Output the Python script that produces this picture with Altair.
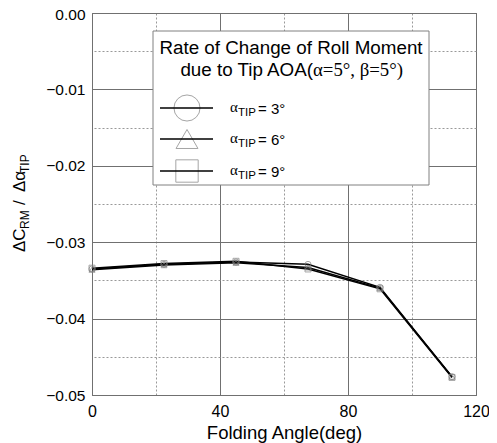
import altair as alt
import pandas as pd

# ---- data ----
FOLD = [0, 22.5, 45, 67.5, 90, 112.5]
TIP3 = [-0.0335, -0.0329, -0.0326, -0.0329, -0.0359, -0.0476]
TIP6 = [-0.0336, -0.0330, -0.0327, -0.0333, -0.0360, -0.0476]
TIP9 = [-0.0334, -0.0328, -0.0325, -0.0335, -0.0361, -0.0477]
SERIES = ["3", "6", "9"]
SHAPES = ["circle", "triangle-up", "square"]
X_MAJOR = [0, 40, 80, 120]
X_MINOR = [20, 60, 100]
Y_MAJOR = [0, -0.01, -0.02, -0.03, -0.04, -0.05]
Y_MINOR = [-0.005, -0.015, -0.025, -0.035, -0.045]

rows = []
for s, vals in zip(SERIES, [TIP3, TIP6, TIP9]):
    for f, v in zip(FOLD, vals):
        rows.append({"fold": f, "val": v, "series": s})
df = pd.DataFrame(rows)
dummy = pd.DataFrame({"a": [0]})

W, H = 384, 382
SANS = "Liberation Sans"
SERIF = "Liberation Serif"
xs = alt.Scale(domain=[0, 120], nice=False, zero=False)
ys = alt.Scale(domain=[-0.05, 0], nice=False, zero=False)

base = alt.Chart(df)

lines = base.mark_line(color="black", strokeWidth=1.5).encode(
    x=alt.X("fold:Q", scale=xs, axis=alt.Axis(orient="bottom", values=X_MAJOR, title="Folding Angle(deg)",
                                              grid=True, gridColor="#707070", gridWidth=1, ticks=False,
                                              domain=False, labelPadding=8, titlePadding=4, labelFlush=False)),
    y=alt.Y("val:Q", scale=ys, axis=alt.Axis(orient="left", values=Y_MAJOR, title=None, grid=True,
                                             gridColor="#707070", gridWidth=1, ticks=False, domain=False,
                                             labelPadding=7, labelFlush=False, labelFontSize=15.5,
                                             labelOffset={"condition": {"test": "datum.value == 0", "value": 1.5},
                                                          "value": 0},
                                             labelExpr="format(datum.value, '.2f')")),
    detail="series:N",
)

# minor dotted grid (independent axes, no labels)
minor = base.mark_point(opacity=0).encode(
    x=alt.X("fold:Q", scale=xs, axis=alt.Axis(orient="top", values=X_MINOR, title=None, labels=False,
                                              ticks=False, domain=False, grid=True, gridColor="#999999",
                                              gridDash=[2, 2], gridWidth=1)),
    y=alt.Y("val:Q", scale=ys, axis=alt.Axis(orient="right", values=Y_MINOR, title=None, labels=False,
                                             ticks=False, domain=False, grid=True, gridColor="#999999",
                                             gridDash=[2, 2], gridWidth=1)),
)

points = base.mark_point(filled=False, size=36, strokeWidth=1, color="#808080").encode(
    x=alt.X("fold:Q", scale=xs, axis=None),
    y=alt.Y("val:Q", scale=ys, axis=None),
    shape=alt.Shape("series:N", scale=alt.Scale(domain=SERIES, range=SHAPES), legend=None),
)

# ---- legend box ----
dc = alt.Chart(dummy)
box = dc.mark_rect(fill="white", stroke="#808080", strokeWidth=1).encode(
    x=alt.value(61), x2=alt.value(337), y=alt.value(18), y2=alt.value(172))
t1 = dc.mark_text(text="Rate of Change of Roll Moment", font=SANS, fontSize=18.8, align="center",
                  baseline="alphabetic", color="black").encode(x=alt.value(199), y=alt.value(41))
t2a = dc.mark_text(text="due to Tip AOA(", font=SANS, fontSize=18.8, align="right",
                   baseline="alphabetic", color="black").encode(x=alt.value(221), y=alt.value(63))
t2b = dc.mark_text(text="\u03b1=5\u00b0, \u03b2=5\u00b0)", font=SERIF, fontSize=18.8, align="left",
                   baseline="alphabetic", color="black").encode(x=alt.value(221), y=alt.value(63))

legend_layers = [box, t1, t2a, t2b]
ROW_Y = [95, 126, 158]
SYM_SIZE = [680, 480, 500]
for ry, shp, lab, sz in zip(ROW_Y, SHAPES, SERIES, SYM_SIZE):
    legend_layers.append(dc.mark_point(shape=shp, size=sz, filled=False, color="#808080", strokeWidth=1)
                         .encode(x=alt.value(95), y=alt.value(ry)))
    legend_layers.append(dc.mark_rule(color="black", strokeWidth=1.5)
                         .encode(x=alt.value(68), x2=alt.value(121), y=alt.value(ry)))
    legend_layers.append(dc.mark_text(text="\u03b1", font=SERIF, fontSize=15, align="left",
                                      baseline="alphabetic", color="black")
                         .encode(x=alt.value(138), y=alt.value(ry + 4)))
    legend_layers.append(dc.mark_text(text="TIP", font=SANS, fontSize=11.5, align="left",
                                      baseline="alphabetic", color="black")
                         .encode(x=alt.value(146), y=alt.value(ry + 8)))
    legend_layers.append(dc.mark_text(text="= " + lab + "\u00b0", font=SANS, fontSize=15, align="left",
                                      baseline="alphabetic", color="black")
                         .encode(x=alt.value(166), y=alt.value(ry + 6)))

# ---- y-axis title with subscripts (rotated) ----
YT_X = -67
ypieces = [
    ("\u0394C", 17, 0, 239),
    ("RM", 12, 4, 216),
    ("/", 17, 0, 192),
    ("\u0394\u03b1", 17, 0, 179),
    ("TIP", 12, 4, 160),
]
ytitle = []
for txt, fs, dx, yy in ypieces:
    ytitle.append(dc.mark_text(text=txt, font=SANS, fontSize=fs, angle=270, align="left",
                               baseline="alphabetic", color="black")
                  .encode(x=alt.value(YT_X + dx), y=alt.value(yy)))

chart = alt.layer(lines, minor, points, *legend_layers, *ytitle).resolve_axis(
    x="independent", y="independent"
).properties(
    width=W, height=H,
    padding={"left": 84, "top": 5, "right": 13, "bottom": 48},
    autosize=alt.AutoSizeParams(type="none"),
).configure_view(stroke="#555555", strokeWidth=1).configure_axis(
    labelFont=SANS, labelFontSize=16, labelColor="black",
    titleFont=SANS, titleFontSize=18.5, titleColor="black", titleFontWeight="normal",
)

chart.save("out.html", embed_options={"renderer": "svg", "actions": False})
